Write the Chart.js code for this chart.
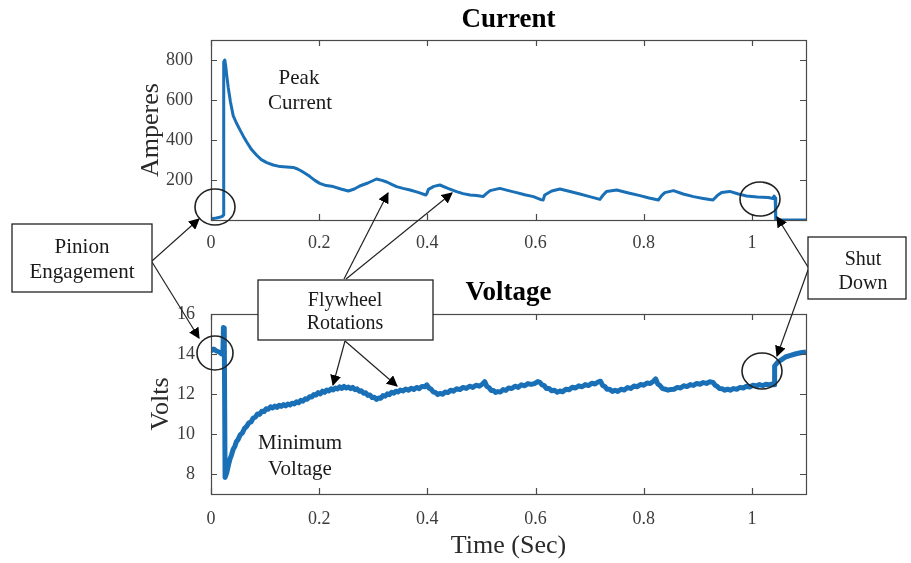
<!DOCTYPE html>
<html>
<head>
<meta charset="utf-8">
<script src="https://cdn.jsdelivr.net/npm/chart.js@4/dist/chart.umd.min.js"></script>
<style>
  html, body { margin: 0; padding: 0; background: #fff; }
  #wrap { position: relative; width: 911px; height: 563px; overflow: hidden; background: #fff; }
  #c1 { position: absolute; left: 0; top: 0; }
  #c2 { position: absolute; left: 0; top: 260px; }
  #ann { position: absolute; left: 0; top: 0; z-index: 5; }
  #ann text { font-family: 'Liberation Serif', 'Times New Roman', serif; fill: #1a1a1a; }
</style>
</head>
<body>
<div id="wrap">
  <canvas id="c1" width="911" height="260"></canvas>
  <canvas id="c2" width="911" height="303"></canvas>
  <svg id="ann" width="911" height="563" viewBox="0 0 911 563">
    <defs>
      <marker id="ah" viewBox="0 0 10 10" refX="9" refY="5" markerWidth="11" markerHeight="11" markerUnits="userSpaceOnUse" orient="auto">
        <path d="M0,0 L10,5 L0,10 z" fill="#000"/>
      </marker>
    </defs>
    <g stroke="#222" stroke-width="1.2" fill="none">
      <ellipse cx="215" cy="207" rx="20" ry="18" stroke-width="1.6"/>
      <ellipse cx="760" cy="199" rx="20" ry="17" stroke-width="1.6"/>
      <ellipse cx="215" cy="353" rx="18" ry="17" stroke-width="1.6"/>
      <ellipse cx="762" cy="371" rx="20" ry="18" stroke-width="1.6"/>
      <line x1="152" y1="261" x2="199" y2="219" marker-end="url(#ah)"/>
      <line x1="152" y1="262" x2="199" y2="338" marker-end="url(#ah)"/>
      <line x1="344" y1="279" x2="388" y2="193" marker-end="url(#ah)"/>
      <line x1="346" y1="279" x2="452" y2="193" marker-end="url(#ah)"/>
      <line x1="345" y1="341" x2="333" y2="385" marker-end="url(#ah)"/>
      <line x1="345" y1="341" x2="397" y2="386" marker-end="url(#ah)"/>
      <line x1="808" y1="267" x2="777" y2="217" marker-end="url(#ah)"/>
      <line x1="808" y1="270" x2="777" y2="356" marker-end="url(#ah)"/>
    </g>
    <g stroke="#222" stroke-width="1.3" fill="#fff">
      <rect x="12" y="224" width="140" height="68"/>
      <rect x="258" y="280" width="175" height="60"/>
      <rect x="808" y="237" width="98" height="62"/>
    </g>
    <g text-anchor="middle" dominant-baseline="central">
      <text x="82" y="246" font-size="21">Pinion</text>
      <text x="82" y="271" font-size="21">Engagement</text>
      <text x="345" y="299" font-size="20">Flywheel</text>
      <text x="345" y="322" font-size="20">Rotations</text>
      <text x="863" y="258" font-size="20">Shut</text>
      <text x="863" y="282" font-size="20">Down</text>
      <text x="299" y="77" font-size="21">Peak</text>
      <text x="300" y="102" font-size="21">Current</text>
      <text x="300" y="442" font-size="21">Minimum</text>
      <text x="300" y="468" font-size="21">Voltage</text>
    </g>
  </svg>
</div>
<script>
// ---------------- DATA ----------------
const xTickValues = [0, 0.2, 0.4, 0.6, 0.8, 1];
const xTickLabels = ['0', '0.2', '0.4', '0.6', '0.8', '1'];
const ampTickValues = [200, 400, 600, 800];
const ampTickLabels = ['200', '400', '600', '800'];
const voltTickValues = [8, 10, 12, 14, 16];
const voltTickLabels = ['8', '10', '12', '14', '16'];

const currentTime = [
  0.000, 0.004, 0.010, 0.016, 0.021, 0.0225, 0.0235, 0.0255, 0.027, 0.029,
  0.032, 0.036, 0.041, 0.047, 0.054, 0.060, 0.066, 0.075, 0.084, 0.093,
  0.103, 0.115, 0.128, 0.140, 0.152, 0.160, 0.167, 0.176, 0.183, 0.192,
  0.201, 0.213, 0.226, 0.240, 0.254, 0.265, 0.275, 0.290, 0.306, 0.316,
  0.325, 0.334, 0.343, 0.355, 0.368, 0.383, 0.397, 0.399, 0.402, 0.412,
  0.423, 0.438, 0.454, 0.466, 0.479, 0.491, 0.503, 0.509, 0.516, 0.534,
  0.550, 0.565, 0.580, 0.596, 0.610, 0.614, 0.617, 0.630, 0.645, 0.660,
  0.682, 0.700, 0.719, 0.725, 0.731, 0.750, 0.772, 0.793, 0.810, 0.827,
  0.833, 0.839, 0.855, 0.873, 0.892, 0.910, 0.928, 0.936, 0.944, 0.959,
  0.975, 0.990, 1.010, 1.030, 1.039, 1.041, 1.043, 1.044, 1.070, 1.100
];
const currentAmps = [
  2, 8, 10, 14, 18, 25, 790, 800, 775, 725,
  660, 590, 522, 485, 448, 418, 390, 352, 325, 302,
  287, 275, 267, 265, 263, 255, 245, 230, 217, 198,
  183, 172, 167, 155, 145, 155, 170, 185, 205, 198,
  190, 178, 167, 158, 150, 138, 125, 132, 153, 168,
  175, 158, 142, 132, 125, 122, 117, 132, 147, 158,
  147, 137, 126, 117, 102, 100, 125, 145, 155, 145,
  130, 117, 103, 125, 142, 150, 135, 122, 110, 100,
  122, 137, 147, 130, 117, 108, 100, 122, 137, 143,
  130, 120, 115, 112, 108, 120, 110, 0, 0, 0
];

const voltageTime = [
  0.000, 0.005, 0.010, 0.015, 0.020, 0.022, 0.023, 0.0245, 0.026, 0.029,
  0.032, 0.035, 0.038, 0.041, 0.044, 0.047, 0.050, 0.054, 0.058, 0.062,
  0.066, 0.070, 0.074, 0.078, 0.082, 0.086, 0.090, 0.094, 0.098, 0.102,
  0.106, 0.110, 0.114, 0.118, 0.122, 0.126, 0.130, 0.134, 0.138, 0.142,
  0.146, 0.150, 0.154, 0.158, 0.162, 0.166, 0.170, 0.174, 0.178, 0.182,
  0.186, 0.190, 0.194, 0.198, 0.202, 0.206, 0.210, 0.214, 0.218, 0.222,
  0.226, 0.230, 0.234, 0.238, 0.242, 0.246, 0.250, 0.254, 0.258, 0.262,
  0.266, 0.270, 0.274, 0.278, 0.282, 0.286, 0.290, 0.294, 0.298, 0.302,
  0.306, 0.310, 0.314, 0.318, 0.322, 0.326, 0.330, 0.334, 0.338, 0.342,
  0.346, 0.350, 0.355, 0.360, 0.365, 0.370, 0.375, 0.380, 0.385, 0.390,
  0.395, 0.399, 0.403, 0.407, 0.411, 0.415, 0.419, 0.423, 0.428, 0.433,
  0.438, 0.443, 0.448, 0.454, 0.460, 0.466, 0.472, 0.478, 0.484, 0.490,
  0.496, 0.502, 0.506, 0.510, 0.514, 0.518, 0.522, 0.526, 0.530, 0.535,
  0.540, 0.545, 0.550, 0.556, 0.562, 0.568, 0.574, 0.580, 0.586, 0.592,
  0.598, 0.604, 0.608, 0.612, 0.616, 0.620, 0.625, 0.630, 0.635, 0.640,
  0.645, 0.650, 0.656, 0.662, 0.668, 0.674, 0.680, 0.686, 0.692, 0.698,
  0.704, 0.710, 0.716, 0.720, 0.724, 0.728, 0.732, 0.737, 0.742, 0.747,
  0.752, 0.758, 0.764, 0.770, 0.776, 0.782, 0.788, 0.794, 0.800, 0.806,
  0.812, 0.818, 0.822, 0.826, 0.830, 0.835, 0.840, 0.845, 0.850, 0.856,
  0.862, 0.868, 0.874, 0.880, 0.886, 0.892, 0.898, 0.904, 0.910, 0.916,
  0.922, 0.928, 0.932, 0.936, 0.940, 0.945, 0.950, 0.955, 0.960, 0.966,
  0.972, 0.978, 0.984, 0.990, 0.996, 1.002, 1.008, 1.014, 1.020, 1.026,
  1.032, 1.038, 1.041, 1.042, 1.048, 1.055, 1.062, 1.070, 1.080, 1.090,
  1.100
];
const voltageVolts = [
  14.15, 14.25, 14.15, 14.10, 14.00, 14.05, 15.33, 15.30, 7.83, 8.05,
  8.42, 8.74, 8.96, 9.24, 9.38, 9.62, 9.72, 9.96, 10.06, 10.28,
  10.38, 10.56, 10.60, 10.80, 10.84, 11.00, 10.98, 11.14, 11.12, 11.26,
  11.24, 11.36, 11.30, 11.40, 11.33, 11.44, 11.38, 11.47, 11.40, 11.50,
  11.45, 11.54, 11.50, 11.61, 11.56, 11.68, 11.64, 11.76, 11.74, 11.86,
  11.85, 11.97, 11.95, 12.07, 12.00, 12.14, 12.08, 12.20, 12.15, 12.26,
  12.20, 12.30, 12.25, 12.36, 12.28, 12.38, 12.30, 12.35, 12.27, 12.33,
  12.22, 12.26, 12.14, 12.16, 12.04, 12.06, 11.93, 11.95, 11.82, 11.84,
  11.73, 11.80, 11.79, 11.92, 11.89, 12.01, 11.97, 12.09, 12.04, 12.14,
  12.10, 12.20, 12.15, 12.25, 12.19, 12.29, 12.23, 12.33, 12.27, 12.38,
  12.36, 12.46, 12.30, 12.24, 12.10, 12.08, 11.97, 12.03, 11.99, 12.10,
  12.07, 12.19, 12.14, 12.26, 12.22, 12.33, 12.28, 12.39, 12.33, 12.44,
  12.39, 12.50, 12.62, 12.38, 12.32, 12.18, 12.18, 12.08, 12.12, 12.10,
  12.22, 12.18, 12.30, 12.27, 12.39, 12.33, 12.46, 12.41, 12.52, 12.48,
  12.52, 12.62, 12.58, 12.46, 12.42, 12.28, 12.28, 12.16, 12.19, 12.09,
  12.15, 12.11, 12.24, 12.21, 12.34, 12.30, 12.41, 12.36, 12.47, 12.42,
  12.54, 12.50, 12.61, 12.64, 12.43, 12.38, 12.24, 12.24, 12.13, 12.19,
  12.13, 12.24, 12.20, 12.32, 12.28, 12.40, 12.36, 12.48, 12.44, 12.55,
  12.52, 12.64, 12.76, 12.50, 12.42, 12.27, 12.24, 12.19, 12.23, 12.24,
  12.33, 12.30, 12.41, 12.37, 12.47, 12.43, 12.53, 12.49, 12.57, 12.53,
  12.61, 12.58, 12.44, 12.38, 12.27, 12.26, 12.19, 12.24, 12.19, 12.27,
  12.24, 12.33, 12.30, 12.39, 12.35, 12.44, 12.40, 12.47, 12.42, 12.49,
  12.45, 12.50, 12.46, 13.40, 13.60, 13.72, 13.85, 13.92, 14.00, 14.06,
  14.10
];

// ---------------- RENDER ----------------
const SERIF = "'Liberation Serif', 'Times New Roman', serif";
const LINE_BLUE = '#1a70b6';

function pairs(xs, ys) { return xs.map((x, i) => ({ x: x, y: ys[i] })); }

const framePlugin = {
  id: 'matlabFrame',
  afterDraw(chart) {
    const { ctx, chartArea: a, scales } = chart;
    const xs = scales.x, ys = scales.y;
    ctx.save();
    ctx.strokeStyle = '#4a4a4a';
    ctx.lineWidth = 1.2;
    ctx.strokeRect(a.left + 0.5, a.top + 0.5, a.right - a.left, a.bottom - a.top);
    const L = 6;
    ctx.beginPath();
    xs.ticks.forEach(t => {
      const px = Math.round(xs.getPixelForValue(t.value)) + 0.5;
      ctx.moveTo(px, a.bottom); ctx.lineTo(px, a.bottom - L);
      ctx.moveTo(px, a.top); ctx.lineTo(px, a.top + L);
    });
    ys.ticks.forEach(t => {
      const py = Math.round(ys.getPixelForValue(t.value)) + 0.5;
      ctx.moveTo(a.left, py); ctx.lineTo(a.left + L, py);
      ctx.moveTo(a.right, py); ctx.lineTo(a.right - L, py);
    });
    ctx.stroke();
    ctx.restore();
  }
};

function makeChart(canvasId, cfg) {
  return new Chart(document.getElementById(canvasId), {
    type: 'line',
    data: {
      datasets: [{
        data: pairs(cfg.xData, cfg.yData),
        borderColor: LINE_BLUE,
        borderWidth: cfg.lineWidth,
        borderJoinStyle: 'round',
        pointRadius: 0,
        tension: 0,
        fill: false
      }]
    },
    options: {
      responsive: false,
      devicePixelRatio: 1,
      animation: false,
      parsing: false,
      layout: { padding: { left: cfg.padLeft, right: 105, top: 0, bottom: 0 } },
      plugins: {
        legend: { display: false },
        tooltip: { enabled: false },
        title: {
          display: true,
          text: cfg.title,
          fullSize: false,
          color: '#000',
          font: { family: SERIF, size: 27, weight: 'bold', lineHeight: 1.2 },
          padding: cfg.titlePad
        }
      },
      scales: {
        x: {
          type: 'linear',
          min: 0,
          max: 1.1,
          grid: { display: false },
          border: { display: false },
          afterBuildTicks: (axis) => { axis.ticks = xTickValues.map(v => ({ value: v })); },
          afterFit: (axis) => { axis.height = cfg.xHeight; },
          ticks: {
            color: '#3c3c3c',
            font: { family: SERIF, size: 18 },
            padding: cfg.xTickPad,
            maxRotation: 0,
            autoSkip: false,
            callback: (v) => xTickLabels[xTickValues.indexOf(v)]
          },
          title: cfg.xTitle ? {
            display: true,
            text: cfg.xTitle,
            color: '#2a2a2a',
            font: { family: SERIF, size: 26, lineHeight: 1.2 },
            padding: { top: 0, bottom: 1.4 }
          } : { display: false }
        },
        y: {
          type: 'linear',
          min: cfg.yMin,
          max: cfg.yMax,
          grid: { display: false },
          border: { display: false },
          afterBuildTicks: (axis) => { axis.ticks = cfg.yTickValues.map(v => ({ value: v })); },
          afterFit: (axis) => { axis.width = 211 - cfg.padLeft; },
          ticks: {
            color: '#3c3c3c',
            font: { family: SERIF, size: 18 },
            padding: cfg.yTickPad,
            autoSkip: false,
            callback: (v) => cfg.yTickLabels[cfg.yTickValues.indexOf(v)]
          },
          title: {
            display: true,
            text: cfg.yTitle,
            color: '#2a2a2a',
            font: { family: SERIF, size: 26, lineHeight: 1.2 },
            padding: { top: 4, bottom: 4 }
          }
        }
      }
    },
    plugins: [framePlugin]
  });
}

makeChart('c1', {
  title: 'Current',
  titlePad: { top: 3.8, bottom: 3.8 },
  xData: currentTime, yData: currentAmps, lineWidth: 3,
  yMin: 0, yMax: 900,
  yTickValues: ampTickValues, yTickLabels: ampTickLabels,
  yTitle: 'Amperes', padLeft: 132, yTickPad: 10,
  xHeight: 40, xTickPad: 4, xTitle: null
});

makeChart('c2', {
  title: 'Voltage',
  titlePad: { top: 16.8, bottom: 4.8 },
  xData: voltageTime, yData: voltageVolts, lineWidth: 5,
  yMin: 7, yMax: 16,
  yTickValues: voltTickValues, yTickLabels: voltTickLabels,
  yTitle: 'Volts', padLeft: 142, yTickPad: 8,
  xHeight: 69, xTickPad: 6, xTitle: 'Time (Sec)'
});
</script>
</body>
</html>
